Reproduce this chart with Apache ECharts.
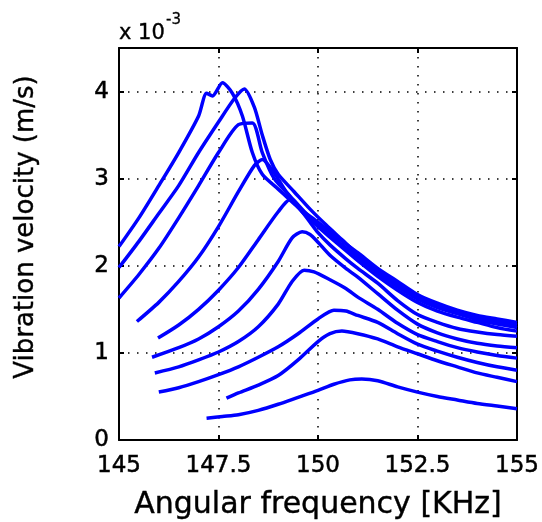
<!DOCTYPE html>
<html>
<head>
<meta charset="utf-8">
<script src="https://cdn.jsdelivr.net/npm/echarts@6/dist/echarts.min.js"></script>
<style>
  html, body { margin: 0; padding: 0; background: #fff; }
  #chart { width: 542px; height: 522px; }
</style>
</head>
<body>
<div id="chart"></div>
<script>
// frequency [kHz], velocity [x 1e-3 m/s], one array per sweep (lowest to highest drive)
var curve1 = [[147.2,0.25],[147.6,0.27],[148.0,0.29],[148.5,0.34],[149.0,0.41],[149.5,0.49],[150.0,0.57],[150.4,0.64],[150.8,0.69],[151.1,0.70],[151.5,0.68],[152.0,0.61],[152.5,0.55],[153.0,0.50],[153.5,0.46],[154.0,0.42],[154.5,0.39],[155.0,0.36]];
var curve2 = [[147.7,0.48],[148.0,0.54],[148.5,0.63],[149.0,0.74],[149.5,0.92],[150.0,1.13],[150.3,1.22],[150.6,1.25],[151.0,1.22],[151.5,1.16],[152.0,1.07],[152.5,0.99],[153.0,0.91],[153.5,0.84],[154.0,0.77],[154.5,0.72],[155.0,0.67]];
var curve3 = [[146.0,0.55],[146.5,0.60],[147.0,0.67],[147.5,0.75],[148.0,0.84],[148.5,0.95],[149.0,1.07],[149.5,1.22],[150.0,1.39],[150.4,1.49],[150.7,1.48],[151.0,1.43],[151.5,1.35],[152.0,1.22],[152.5,1.10],[153.0,1.02],[153.5,0.95],[154.0,0.89],[154.5,0.84],[155.0,0.80]];
var curve4 = [[145.9,0.77],[146.5,0.84],[147.0,0.92],[147.5,1.01],[148.0,1.13],[148.5,1.30],[149.0,1.56],[149.35,1.82],[149.65,1.95],[149.9,1.93],[150.3,1.84],[150.7,1.74],[151.0,1.64],[151.5,1.50],[152.0,1.34],[152.5,1.21],[153.0,1.13],[153.5,1.06],[154.0,1.01],[154.5,0.97],[155.0,0.94]];
var curve5 = [[145.83,0.95],[146.5,1.06],[147.0,1.16],[147.5,1.30],[148.0,1.48],[148.5,1.73],[149.0,2.05],[149.35,2.32],[149.6,2.39],[149.8,2.36],[150.0,2.27],[150.3,2.12],[150.7,1.97],[151.0,1.87],[151.5,1.68],[152.0,1.49],[152.5,1.33],[153.0,1.23],[153.5,1.16],[154.0,1.11],[154.5,1.08],[155.0,1.06]];
var curve6 = [[145.98,1.17],[146.5,1.32],[147.0,1.50],[147.5,1.72],[148.0,1.98],[148.5,2.30],[149.0,2.62],[149.3,2.76],[149.5,2.68],[149.8,2.50],[150.0,2.38],[150.3,2.24],[150.7,2.08],[151.0,1.97],[151.5,1.80],[152.0,1.60],[152.5,1.44],[153.0,1.35],[153.5,1.28],[154.0,1.24],[154.5,1.21],[155.0,1.19]];
var curve7 = [[145.45,1.36],[146.0,1.58],[146.5,1.82],[147.0,2.10],[147.5,2.45],[148.0,2.85],[148.4,3.15],[148.6,3.22],[148.85,3.10],[149.2,2.85],[149.6,2.62],[150.0,2.45],[150.5,2.25],[151.0,2.06],[151.5,1.88],[152.0,1.72],[152.5,1.58],[153.0,1.48],[153.5,1.41],[154.0,1.35],[154.5,1.29],[155.0,1.25]];
var curve8 = [[145.0,1.63],[145.5,1.90],[146.0,2.20],[146.5,2.55],[147.0,2.92],[147.5,3.30],[148.0,3.62],[148.35,3.64],[148.6,3.30],[148.9,3.00],[149.3,2.80],[149.7,2.60],[150.0,2.48],[150.5,2.28],[151.0,2.10],[151.5,1.92],[152.0,1.76],[152.5,1.62],[153.0,1.52],[153.5,1.45],[154.0,1.38],[154.5,1.33],[155.0,1.29]];
var curve9 = [[145.0,1.98],[145.5,2.28],[146.0,2.60],[146.5,2.92],[147.0,3.30],[147.5,3.65],[147.9,3.92],[148.15,4.03],[148.4,3.82],[148.6,3.50],[148.8,3.22],[149.0,3.05],[149.4,2.85],[149.8,2.65],[150.2,2.47],[150.6,2.30],[151.0,2.13],[151.5,1.95],[152.0,1.79],[152.5,1.65],[153.0,1.55],[153.5,1.47],[154.0,1.41],[154.5,1.36],[155.0,1.32]];
var curve10 = [[145.0,2.22],[145.5,2.55],[146.0,2.92],[146.5,3.30],[147.0,3.72],[147.2,3.98],[147.35,3.95],[147.6,4.10],[147.85,3.98],[148.1,3.72],[148.35,3.30],[148.6,3.05],[149.0,2.88],[149.5,2.67],[150.0,2.50],[150.5,2.32],[151.0,2.15],[151.5,1.97],[152.0,1.82],[152.5,1.67],[153.0,1.57],[153.5,1.49],[154.0,1.43],[154.5,1.39],[155.0,1.35]];

var curves = [curve1, curve2, curve3, curve4, curve5, curve6, curve7, curve8, curve9, curve10];
var xTicks = [145, 147.5, 150, 152.5, 155];
var yTicks = [0, 1, 2, 3, 4];

var font = 'DejaVu Sans';
var black = '#000';

function frameAxis(extra) {
    var base = {
        type: 'value',
        axisLine: { show: true, onZero: false, lineStyle: { color: black, width: 2 } },
        axisTick: { show: true, inside: true, length: 5, lineStyle: { color: black, width: 2 } },
        splitLine: { show: false },
        axisLabel: { show: false }
    };
    return Object.assign(base, extra);
}

var dotted = { show: true, lineStyle: { color: black, width: 1.5, type: [1.5, 7.5] } };

var chart = echarts.init(document.getElementById('chart'));
chart.setOption({
    backgroundColor: '#fff',
    animation: false,
    grid: { left: 119, right: 25, top: 48, bottom: 82, containLabel: false, outerBoundsMode: 'none' },
    xAxis: [
        frameAxis({
            position: 'bottom', min: 145, max: 155, interval: 2.5,
            splitLine: dotted,
            axisLabel: {
                show: true, color: black, fontFamily: font, fontSize: 23, margin: 15,
                textBorderColor: black, textBorderWidth: 0.5,
                formatter: function (v) { return xTicks.indexOf(v) >= 0 ? String(v) : ''; }
            },
            name: 'Angular frequency [KHz]', nameLocation: 'middle', nameGap: 50,
            nameTextStyle: { color: black, fontFamily: font, fontSize: 30, textBorderColor: black, textBorderWidth: 0.4 }
        }),
        frameAxis({ position: 'top', min: 145, max: 155, interval: 2.5 })
    ],
    yAxis: [
        frameAxis({
            position: 'left', min: 0, max: 4.5, interval: 1,
            splitLine: dotted,
            axisLabel: {
                show: true, color: black, fontFamily: font, fontSize: 23, margin: 10,
                textBorderColor: black, textBorderWidth: 0.5,
                formatter: function (v) { return yTicks.indexOf(v) >= 0 ? String(v) : ''; }
            }
        }),
        frameAxis({ position: 'right', min: 0, max: 4.5, interval: 1 })
    ],
    graphic: [
        {
            type: 'text', x: 26, y: 227, rotation: Math.PI / 2,
            style: {
                text: 'Vibration velocity (m/s)', fill: black, font: '26px "DejaVu Sans"',
                stroke: black, lineWidth: 0.4,
                align: 'center', verticalAlign: 'middle'
            }
        },
        {
            type: 'text', x: 119, y: 34,
            style: { text: 'x 10', fill: black, font: '21px "DejaVu Sans"', stroke: black, lineWidth: 0.4, align: 'left', verticalAlign: 'middle' }
        },
        {
            type: 'text', x: 166, y: 20,
            style: { text: '-3', fill: black, font: '15px "DejaVu Sans"', stroke: black, lineWidth: 0.3, align: 'left', verticalAlign: 'middle' }
        }
    ],
    series: curves.map(function (c) {
        return {
            type: 'line',
            data: c,
            showSymbol: false,
            smooth: 0.25,
            lineStyle: { color: '#0000ff', width: 3.5 }
        };
    })
});
</script>
</body>
</html>
